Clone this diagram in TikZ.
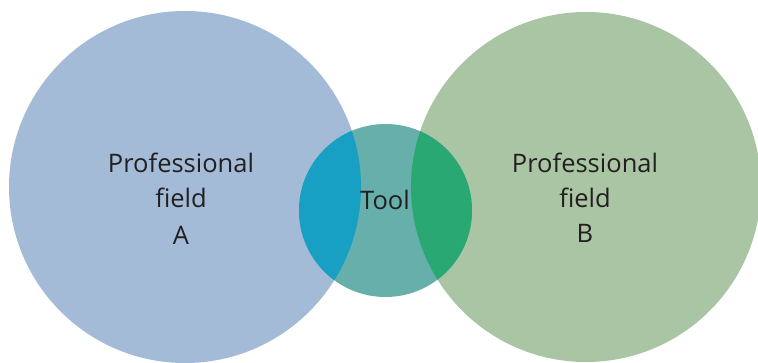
\documentclass[tikz,border=0pt]{standalone}
\usepackage{fontspec}
\setmainfont{Open Sans}
\definecolor{fieldA}{HTML}{A3BBD6}
\definecolor{fieldB}{HTML}{A9C5A3}
\definecolor{toolc}{HTML}{66AFAA}
\definecolor{ovA}{HTML}{189FC4}
\definecolor{ovB}{HTML}{29A873}
\definecolor{txt}{HTML}{231F20}
\begin{document}
\begin{tikzpicture}[x=1pt,y=1pt,
  lbl/.style={anchor=base,inner sep=0pt,text=txt,font=\fontsize{25.5}{30}\selectfont}]
\useasboundingbox (0,0) rectangle (758,363);
\coordinate (cA) at (185,176);
\coordinate (cB) at (586,176);
\coordinate (cT) at (385.5,152.5);
\fill[fieldA] (cA) circle[radius=176];
\fill[fieldB] (cB) circle[radius=175];
\fill[toolc] (cT) circle[radius=86.5];
\begin{scope}
  \clip (cA) circle[radius=176];
  \fill[ovA] (cT) circle[radius=86.5];
\end{scope}
\begin{scope}
  \clip (cB) circle[radius=175];
  \fill[ovB] (cT) circle[radius=86.5];
\end{scope}
\node[lbl] (a1) at (181,190) {Professional};
\node[lbl] (a2) at (181,155) {field};
\node[lbl] (a3) at (181,118) {A};
\node[lbl] (b1) at (585,190) {Professional};
\node[lbl] (b2) at (585,155) {field};
\node[lbl] (b3) at (585,120) {B};
\node[lbl] (t) at (385,153) {Tool};
\end{tikzpicture}
\end{document}
